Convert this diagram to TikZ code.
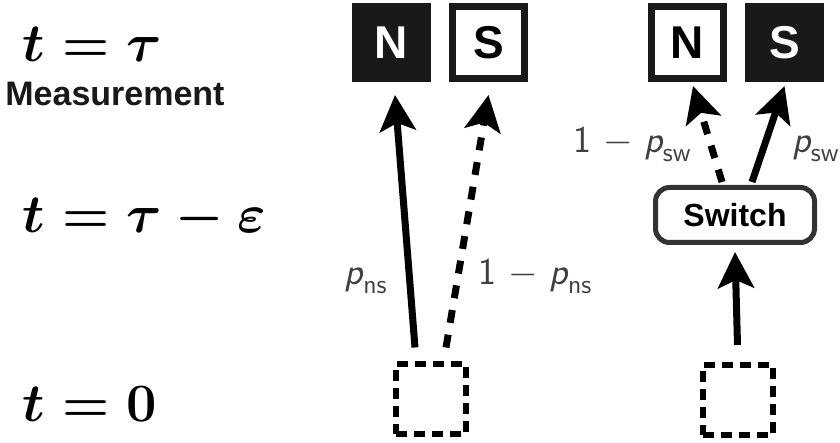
\RequirePackage{fix-cm}
\documentclass[tikz,border=0pt]{standalone}
\usepackage{amsmath}
\usepackage{fontspec}
\newfontfamily\helv{Liberation Sans}
\usetikzlibrary{arrows.meta, positioning, calc}

\begin{document}
\begin{tikzpicture}[
    x=1pt, y=1pt,
    magnet/.style={rectangle, minimum size=36pt, inner sep=0pt, line width=3.5pt, draw=black!90, font=\helv\bfseries\fontsize{23}{23}\selectfont},
    onbox/.style={magnet, fill=black!90, text=white},
    offbox/.style={magnet, fill=white, text=black},
    startbox/.style={rectangle, minimum size=35pt, line width=3pt, draw=black, dash pattern=on 5.5pt off 3.5pt},
    switchbox/.style={rectangle, rounded corners=7pt, minimum width=79.5pt, minimum height=27.5pt, line width=2.5pt, draw=black!80, font=\helv\bfseries\fontsize{16}{16}\selectfont},
    arrow/.style={line width=3.5pt, -{Stealth[length=18pt, width=18pt, inset=4pt]}},
    dashy/.style={dash pattern=on 6.5pt off 6pt},
    prob/.style={inner sep=0pt, text=black!75, font=\sffamily\fontsize{19}{19}\selectfont},
    timelabel/.style={anchor=base west, inner sep=0pt, font=\fontsize{27}{27}\selectfont\boldmath}
]
\useasboundingbox (0,0) rectangle (420,221.5);

% time axis on the left
\node (tau) [timelabel] at (11,190.5) {$t=\tau$};
\node (meas) [anchor=base west, inner sep=0pt, text=black!90, font=\helv\bfseries\fontsize{17}{17}\selectfont] at (2.5,168.5) {Measurement};
\node (taueps) [timelabel] at (11,105) {$t=\tau-\varepsilon$};
\node (zero) [timelabel] at (11,10.5) {$t=0$};

% outcomes
\node (nl) [onbox] at (195.75,200.25) {N};
\node (sl) [offbox, right=9pt of nl] {S};
\node (nr) [offbox] at (343.75,200.25) {N};
\node (sr) [onbox, right=9pt of nr] {S};

\node (sw) [switchbox] at (367.5,114) {Switch};
\node (startl) [startbox] at (215.5,21.75) {};
\node (startr) [startbox] at (368.75,21.5) {};

\draw [arrow] ([xshift=-8pt,yshift=7pt]startl.north) -- ([xshift=1.75pt,yshift=-6.5pt]nl.south);
\draw [arrow, dashy] ([xshift=7.5pt,yshift=7pt]startl.north) -- ([yshift=-6.5pt]sl.south);
\draw [arrow] ([yshift=8.5pt]startr.north) -- ([yshift=-3.5pt]sw.south);
\draw [arrow, dashy] ([xshift=-6.5pt,yshift=1.5pt]sw.north) -- ([xshift=2.75pt,yshift=-2pt]nr.south);
\draw [arrow] ([xshift=8.5pt,yshift=1.5pt]sw.north) -- ([yshift=-2pt]sr.south);

\node (pns) [prob, anchor=base east] at (194,79) {$\textit{p}_{\textsf{ns}}$};
\node (qns) [prob, anchor=base west] at (239,79) {1 $-$ $\textit{p}_{\textsf{ns}}$};
\node (qsw) [prob, anchor=base east] at (346,145) {1 $-$ $\textit{p}_{\textsf{sw}}$};
\node (psw) [prob, anchor=base west] at (396,145) {$\textit{p}_{\textsf{sw}}$};

\end{tikzpicture}
\end{document}
